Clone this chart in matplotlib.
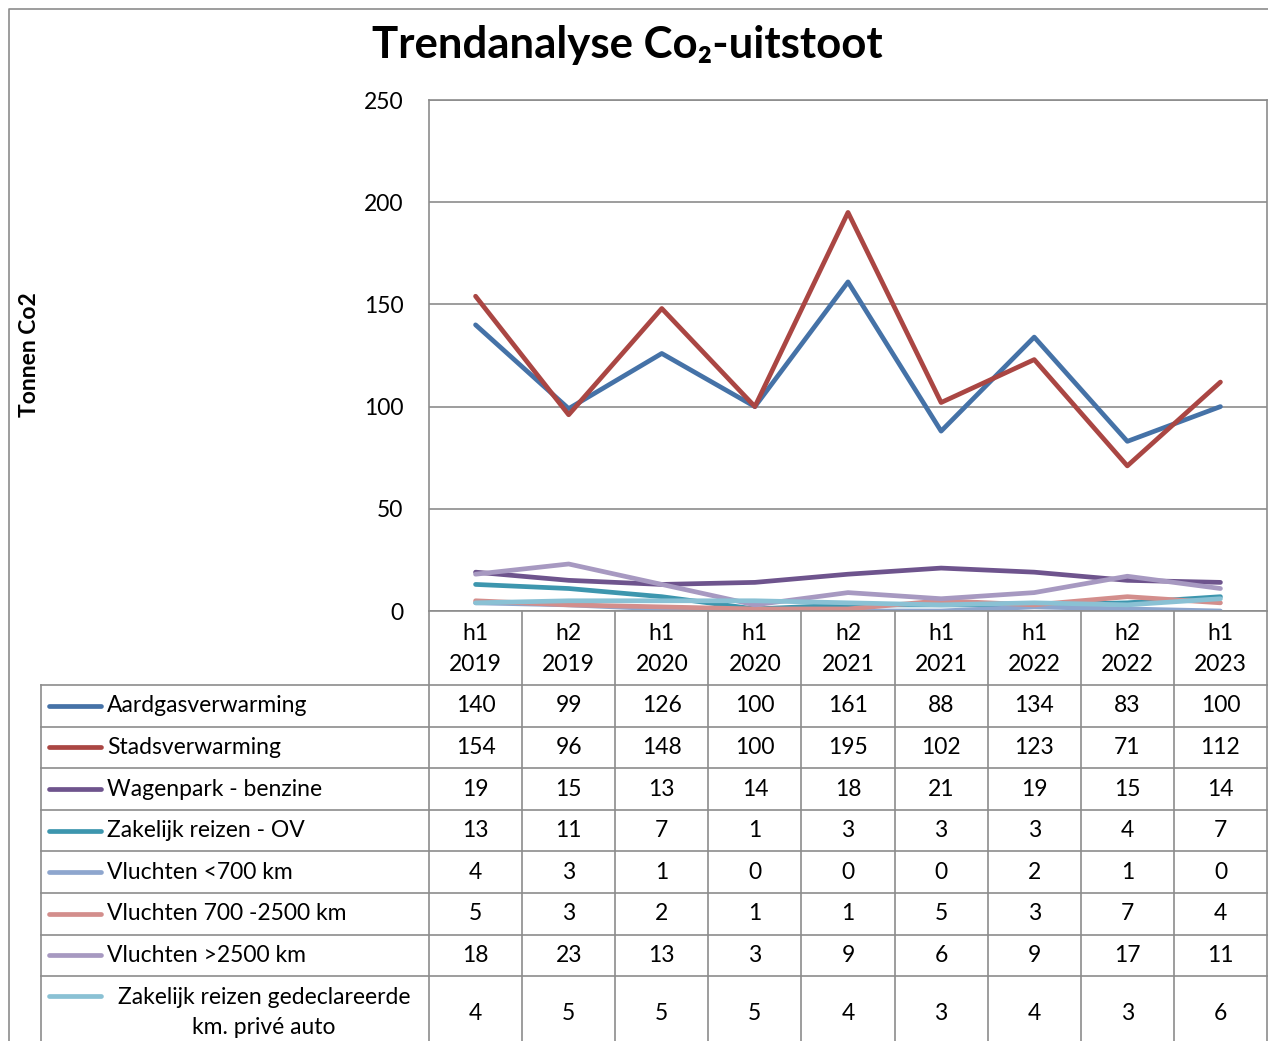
import matplotlib
matplotlib.use("Agg")
import matplotlib.pyplot as plt
import numpy as np

# data
periods = ['h1\n2019', 'h2\n2019', 'h1\n2020', 'h1\n2020', 'h2\n2021',
           'h1\n2021', 'h1\n2022', 'h2\n2022', 'h1\n2023']
series_names = ['Aardgasverwarming', 'Stadsverwarming', 'Wagenpark - benzine',
                'Zakelijk reizen - OV', 'Vluchten <700 km', 'Vluchten 700 -2500 km',
                'Vluchten >2500 km', 'Zakelijk reizen gedeclareerde\nkm. privé auto']
aardgas = [140, 99, 126, 100, 161, 88, 134, 83, 100]
stads = [154, 96, 148, 100, 195, 102, 123, 71, 112]
wagenpark = [19, 15, 13, 14, 18, 21, 19, 15, 14]
ov = [13, 11, 7, 1, 3, 3, 3, 4, 7]
vl_700 = [4, 3, 1, 0, 0, 0, 2, 1, 0]
vl_2500 = [5, 3, 2, 1, 1, 5, 3, 7, 4]
vl_long = [18, 23, 13, 3, 9, 6, 9, 17, 11]
prive_auto = [4, 5, 5, 5, 4, 3, 4, 3, 6]
series = [aardgas, stads, wagenpark, ov, vl_700, vl_2500, vl_long, prive_auto]
colors = ['#4572A7', '#AA4643', '#6E548D', '#3D96AE', '#8EA6CE', '#D38E8C', '#A799C1', '#8AC1D4']

W, H = 1268, 1041
font = ['Lato', 'DejaVu Sans']
plt.rcParams['font.family'] = font
grid_col = '#8C8C8C'

fig = plt.figure(figsize=(W / 100, H / 100), dpi=100)

# overlay axes in pixel units for frame + table
ov_ax = fig.add_axes([0, 0, 1, 1])
ov_ax.set_xlim(0, W)
ov_ax.set_ylim(H, 0)
ov_ax.axis('off')

# outer chart frame
ov_ax.plot([9, 9, W + 5], [H + 5, 9, 9], color=grid_col, lw=1.2)

# plot area
left, right, top, bottom = 429, 1267, 100, 611
ax = fig.add_axes([left / W, 1 - bottom / H, (right - left) / W, (bottom - top) / H])
x = np.arange(len(periods))
for vals, c in zip(series, colors):
    ax.plot(x, vals, color=c, lw=3.4, solid_joinstyle='round', solid_capstyle='round')
ax.set_xlim(-0.5, len(periods) - 0.5)
ax.set_ylim(0, 250)
ax.set_yticks(range(0, 251, 50))
ax.yaxis.grid(True, color=grid_col, lw=1.2)
ax.set_axisbelow(True)
ax.set_xticks([])
ax.tick_params(axis='y', length=0, pad=18.5, labelsize=16.5)
for s in ax.spines.values():
    s.set_color(grid_col)
    s.set_linewidth(1.2)

fig.text(30 / W, 1 - 355 / H, 'Tonnen Co2', rotation=90, ha='center', va='center',
         fontsize=16.5, fontweight='bold')
fig.text(627 / W, 1 - 45 / H, 'Trendanalyse Co₂-uitstoot', ha='center', va='center',
         fontsize=31.5, fontweight='bold', family=font)

# table
col_w = (right - left) / len(periods)
tab_left = 41
head_top, head_bot = 611, 685
row_h = 41.6
row_tops = [head_bot + i * row_h for i in range(len(series_names))]
row_bots = row_tops[1:] + [row_tops[-1] + 2 * row_h]
tab_bot = row_bots[-1]
fs = 16.5

# horizontal lines
for y in row_tops:
    ov_ax.plot([tab_left, right], [y, y], color=grid_col, lw=1.2)
ov_ax.plot([tab_left, right], [tab_bot, tab_bot], color=grid_col, lw=1.2)
# vertical lines
ov_ax.plot([tab_left, tab_left], [head_bot, tab_bot], color=grid_col, lw=1.2)
for i in range(len(periods) + 1):
    xx = left + i * col_w
    ov_ax.plot([xx, xx], [head_top, tab_bot], color=grid_col, lw=1.2)

# header
for i, p in enumerate(periods):
    ov_ax.text(left + (i + 0.5) * col_w, (head_top + head_bot) / 2 + 1, p, ha='center',
               va='center', fontsize=fs, linespacing=1.6)

# rows
for r, (name, vals, c) in enumerate(zip(series_names, series, colors)):
    yc = (row_tops[r] + row_bots[r]) / 2
    if '\n' in name:
        ly = row_tops[r] + 20
        ov_ax.text(264, row_tops[r] + 36, name, ha='center', va='center', fontsize=fs,
                   linespacing=1.55)
    else:
        ly = yc
        ov_ax.text(107, yc, name, ha='left', va='center', fontsize=fs)
    ov_ax.plot([49, 101], [ly, ly], color=c, lw=3.4, solid_capstyle='round')
    for i, v in enumerate(vals):
        ov_ax.text(left + (i + 0.5) * col_w, row_tops[r] + 37 if '\n' in name else yc,
                   str(v), ha='center', va='center', fontsize=fs)

fig.savefig('out.png', dpi=100)
